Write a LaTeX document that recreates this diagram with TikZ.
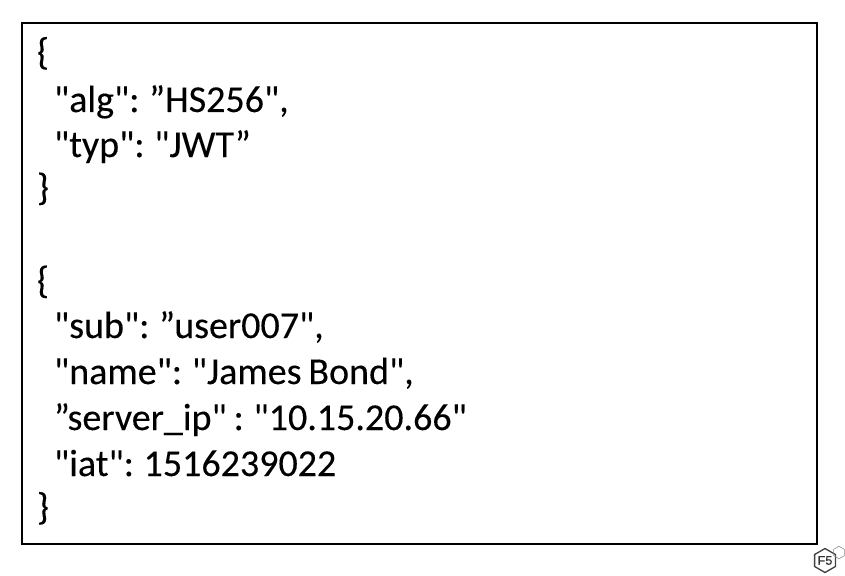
\documentclass[tikz,border=0pt]{standalone}
\usepackage{fontspec}
\newfontfamily\codefont[WordSpace=0.8,FakeBold=0.2]{Carlito}
\newfontfamily\logofont[FakeBold=0.4]{Liberation Sans}
\usetikzlibrary{shapes.geometric}
\tikzset{
  x=1pt,y=-1pt,
  codeline/.style={anchor=base west,inner sep=0pt,outer sep=0pt,font=\codefont\fontsize{38}{40}\selectfont,text=black},
  framebox/.style={draw=black,line width=1.6pt,fill=white},
  logohex/.style={draw=#1,regular polygon,regular polygon sides=6,shape border rotate=90,inner sep=0pt,line width=1.3pt},
}
\begin{document}
\begin{tikzpicture}
\useasboundingbox (0,0) rectangle (845,575);
\draw[framebox] (22,23) rectangle (817,544);
\node[codeline] (l1) at (37,64.5) {\{};
\node[codeline] (l2) at (54,112) {"alg": ”HS256",};
\node[codeline] (l3) at (54,157) {"typ": "JWT”};
\node[codeline] (l4) at (37,200) {\}};
\node[codeline] (l5) at (37,293) {\{};
\node[codeline] (l6) at (54,338) {"sub": ”user007",};
\node[codeline] (l7) at (54,384) {"name": "James Bond",};
\node[codeline] (l8) at (54,430) {”server\_ip" : "10.15.20.66"};
\node[codeline] (l9) at (54,476) {"iat": 1516239022};
\node[codeline] (l10) at (37,519.5) {\}};
\node[logohex=black!75,minimum size=24pt,font=\logofont\fontsize{12.5}{12.5}\selectfont,text=black!80] (f5) at (825,560.5) {F5};
\node[logohex=black!45,minimum size=12.5pt,line width=.6pt] (tm) at (839,552.5) {};
\end{tikzpicture}
\end{document}
